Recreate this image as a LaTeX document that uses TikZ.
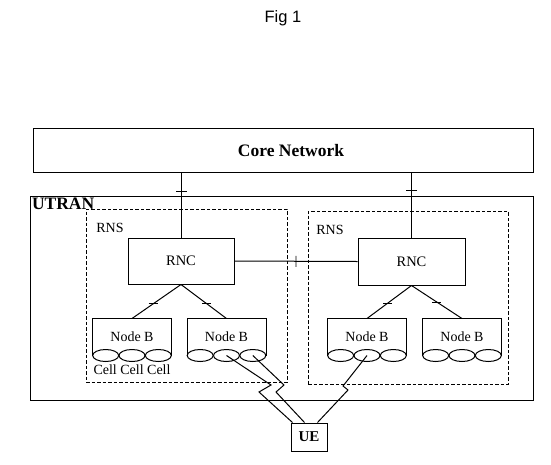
\documentclass[tikz,border=0pt]{standalone}
\usepackage{fontspec}
\setmainfont{Liberation Serif}
\newfontfamily\figfont{Liberation Sans}
\usetikzlibrary{shapes.geometric,calc,decorations.markings}
\begin{document}
\begin{tikzpicture}[x=1pt,y=-1pt, line width=1pt,
  box/.style={draw, inner sep=0},
  rnsbox/.style={draw, dash pattern=on 3.5pt off 2pt, line width=1pt, inner sep=0},
  cell/.style={draw, ellipse, inner sep=0, minimum height=12pt, minimum width=26pt},
  nodeb/.style={inner sep=0, minimum width=78pt, minimum height=36pt, font=\fontsize{14}{15}\selectfont},
  tickv/.style={postaction={decorate, decoration={markings, mark=at position #1 with {\draw[line width=0.9pt] (0,-5.5pt) -- (0,5.5pt);}}}},
  tickh/.style={postaction={decorate, decoration={markings, mark=at position #1 with {\pgftransformresetnontranslations\draw[line width=0.9pt] (-4.5pt,0) -- (4.5pt,0);}}}},
  lbl/.style={font=\fontsize{14}{15}\selectfont, inner sep=0}
]
\useasboundingbox (0,0) rectangle (551,464);

% title
\node[font=\figfont\fontsize{16.5}{18}\selectfont, inner sep=0] (fig) at (283,18) {Fig 1};

% core network
\node[box, minimum width=500pt, minimum height=44pt] (core) at (283,150) {};
\node[font=\bfseries\fontsize{17.5}{18}\selectfont, inner sep=0] (corelbl) at ($(core.center)+(8,1)$) {Core Network};

% UTRAN
\node[box, minimum width=503pt, minimum height=204pt] (utran) at (281.5,298) {};
\node[anchor=north west, inner sep=0, font=\bfseries\fontsize{17.5}{18}\selectfont] (utranlbl) at ($(utran.north west)+(2,1.5)$) {UTRAN};

% RNS boxes
\node[rnsbox, minimum width=201pt, minimum height=173pt] (rnsL) at (186.5,295.5) {};
\node[rnsbox, minimum width=200pt, minimum height=173pt] (rnsR) at (408,297.5) {};
\node[lbl] (rnsLlbl) at (110,228) {RNS};
\node[lbl] (rnsRlbl) at (330,230) {RNS};

% RNCs
\node[box, minimum width=106pt, minimum height=46pt, font=\fontsize{14.5}{15}\selectfont] (rncL) at (181,261) {RNC};
\node[box, minimum width=107pt, minimum height=47pt, font=\fontsize{14.5}{15}\selectfont] (rncR) at (411.5,261.5) {RNC};

% Node Bs
\node[nodeb] (nbL1) at (132,337) {Node B};
\node[nodeb] (nbL2) at (226.5,337) {Node B};
\node[nodeb] (nbR1) at (367,337) {Node B};
\node[nodeb] (nbR2) at (462,337) {Node B};
\foreach \n in {nbL1,nbL2,nbR1,nbR2}{
  \draw (\n.south west) -- (\n.north west) -- (\n.north east) -- (\n.south east);
  \node[cell] (\n-c1) at ($(\n.south west)!1/6!(\n.south east)$) {};
  \node[cell] (\n-c2) at (\n.south) {};
  \node[cell] (\n-c3) at ($(\n.south west)!5/6!(\n.south east)$) {};
}
\node[lbl] (celllbl) at ($(nbL1.south)+(0,14)$) {Cell Cell Cell};

% UE
\node[box, minimum width=36pt, minimum height=28pt, font=\bfseries\fontsize{15}{15}\selectfont] (ue) at (309,437) {UE};

% connectors
\draw[tickv=0.71] (rncL.north) -- (rncL.north |- core.south);
\draw[tickv=0.72] (rncR.north) -- (rncR.north |- core.south);
\draw[tickv=0.5] (rncL.east) -- (rncR.west);
\draw[tickh=0.57] (rncL.south) -- (nbL1.north);
\draw[tickh=0.57] (rncL.south) -- (nbL2.north);
\draw[tickh=0.53] (rncR.south) -- (nbR1.north);
\draw[tickh=0.5] (rncR.south) -- (nbR2.north);

% radio links
\draw (nbL2-c2.center) -- (271,385) -- (259,392) -- ($(ue.north west)+(2,0)$);
\draw (nbL2-c3.center) -- (284,385) -- (276,392) -- ($(ue.north west)+(14,0)$);
\draw (nbR1-c2.center) -- (343,386) -- (348,390) -- ($(ue.north west)+(27,0)$);
\end{tikzpicture}
\end{document}
